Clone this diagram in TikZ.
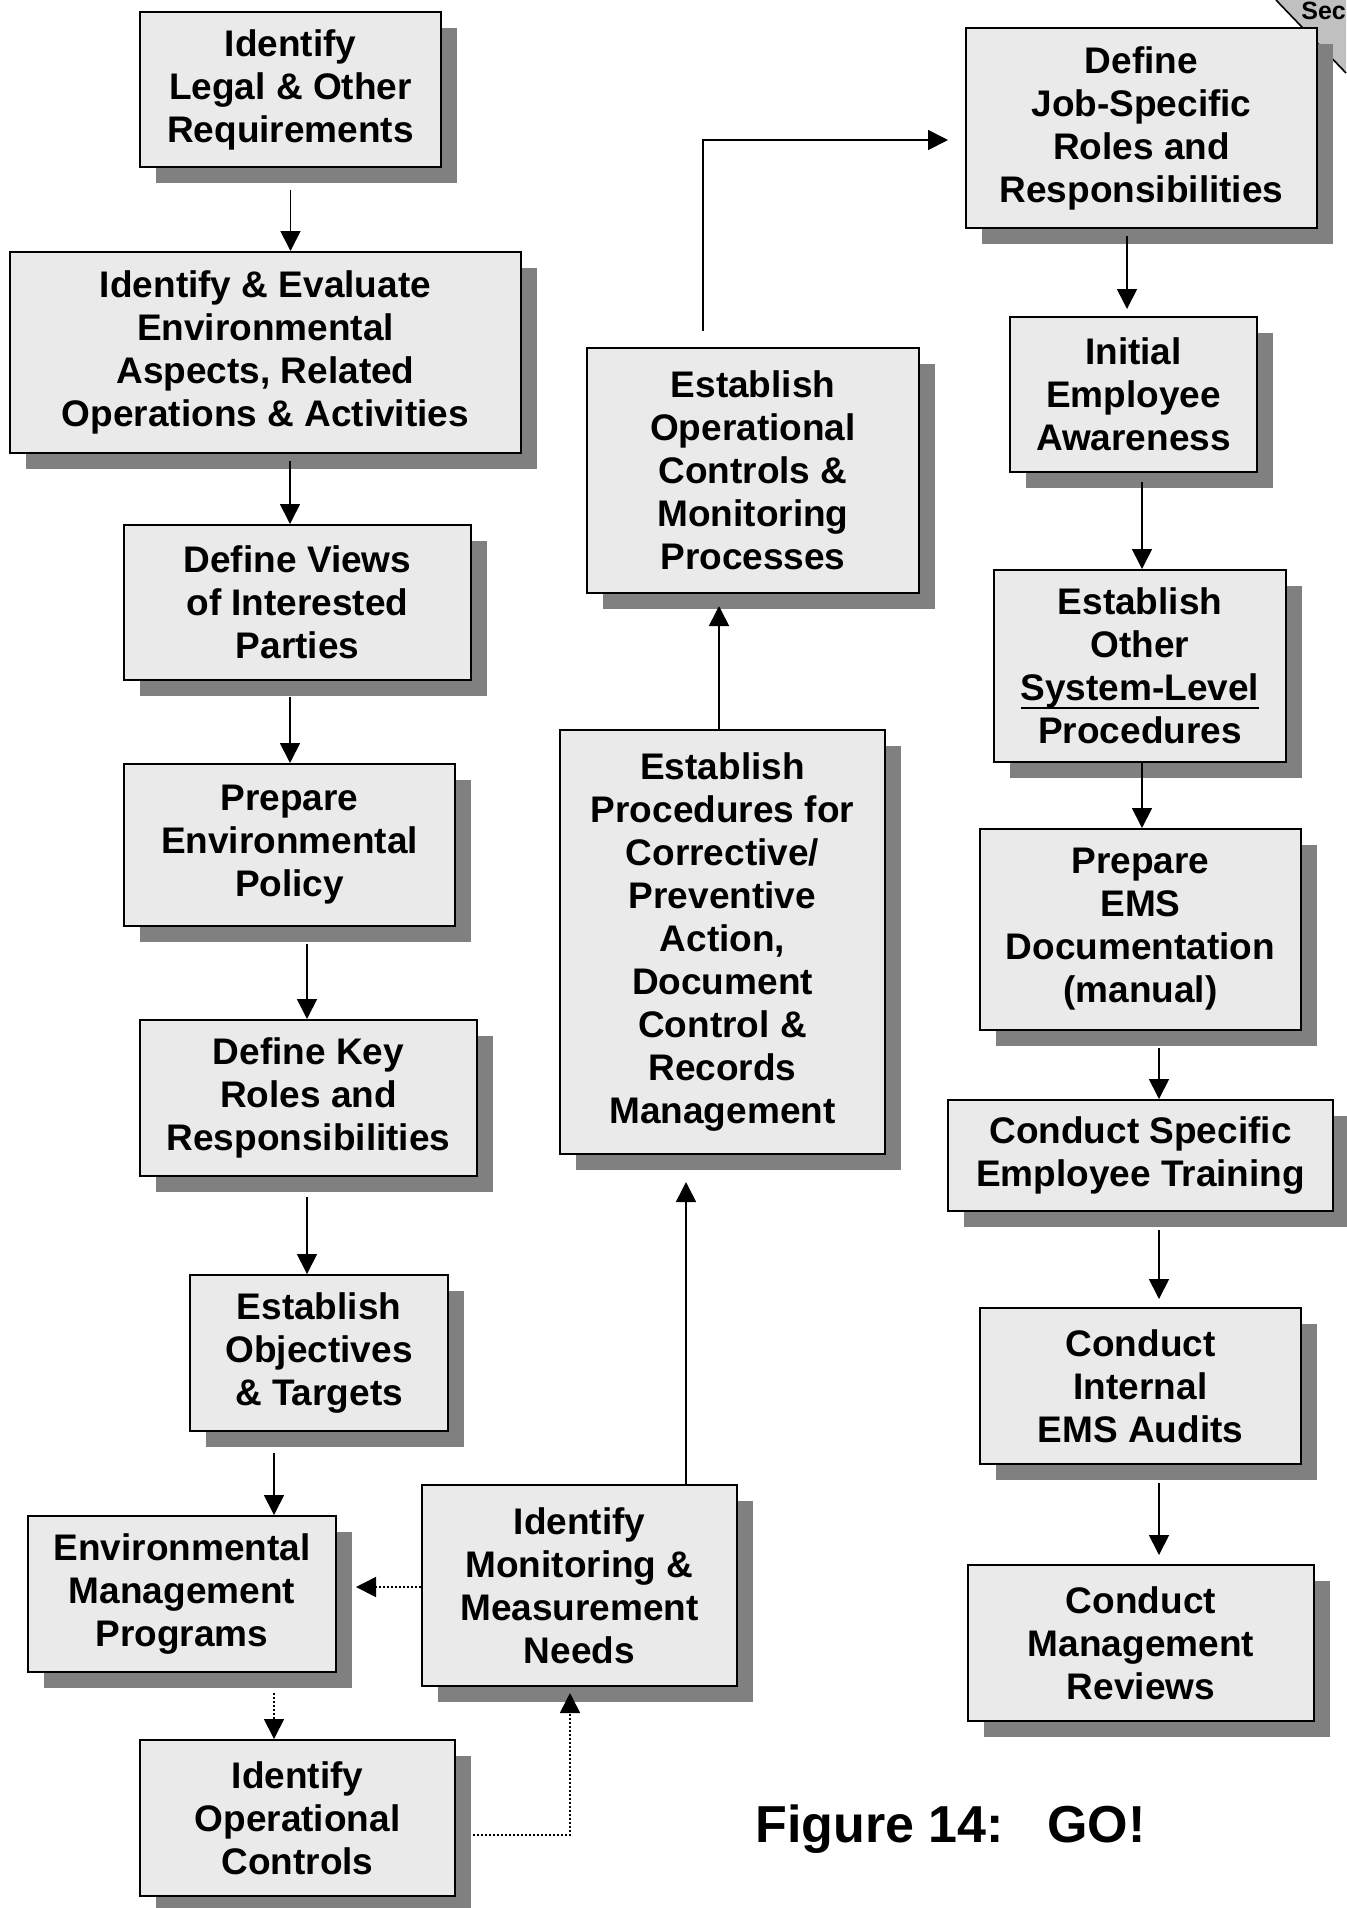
\documentclass[tikz,border=0pt]{standalone}
\usepackage{fontspec}
\setmainfont{Liberation Sans}
\usetikzlibrary{arrows.meta,calc,shadows}
\definecolor{boxfill}{HTML}{EAEAEA}
\definecolor{shadowgray}{HTML}{808080}
\definecolor{tabgray}{HTML}{C0C0C0}
\newcommand\myul[1]{\begingroup\setbox0\hbox{#1}\rlap{\rule[-4.05pt]{\wd0}{1.1pt}}\box0\endgroup}
\begin{document}
\begin{tikzpicture}[x=0.5pt,y=-0.5pt,
  box/.style={draw=black, line width=1pt, fill=boxfill, align=center, inner sep=0pt,
    font=\bfseries\fontsize{18.5pt}{21.5pt}\selectfont,
    drop shadow={shadow xshift=8pt, shadow yshift=-8pt, fill=shadowgray, opacity=1}},
  arr/.style={line width=0.85pt, -{Triangle[length=10pt,width=10pt]}},
  dotarr/.style={arr, dash pattern=on 1pt off 1pt}]
\useasboundingbox (0,0) rectangle (1346,1908);
% corner tab
\fill[tabgray] (1276,0) -- (1346,0) -- (1346,73) -- cycle;
\draw[line width=0.8pt] (1276,0) -- (1346,73);
\node[anchor=base west, inner sep=0pt, font=\bfseries\fontsize{12.5pt}{14pt}\selectfont] (sec) at (1301,19) {Sec};
% left column
\node[box, minimum width=150.5pt, minimum height=77.5pt] (legal) at (290.5,89.5) {Identify\\Legal \& Other\\Requirements};
\node[box, minimum width=255.5pt, minimum height=100.5pt] (evaluate) at (265.5,352.5) {Identify \& Evaluate\\Environmental\\Aspects, Related\\Operations \& Activities};
\node[box, minimum width=173.5pt, minimum height=77.5pt] (views) at (297.5,602.5) {Define Views\\of Interested\\Parties};
\node[box, minimum width=165.5pt, minimum height=81pt] (policy) at (289.5,845) {Prepare\\Environmental\\Policy};
\node[box, minimum width=168.5pt, minimum height=78pt] (keyroles) at (308.5,1098) {Define Key\\Roles and\\Responsibilities};
\node[box, minimum width=129pt, minimum height=78pt] (objectives) at (319,1353) {Establish\\Objectives\\\& Targets};
\node[box, minimum width=154pt, minimum height=78pt] (envprog) at (182,1594) {Environmental\\Management\\Programs};
\node[box, minimum width=157.5pt, minimum height=100.5pt] (monitor) at (579.5,1585.5) {Identify\\Monitoring \&\\Measurement\\Needs};
\node[box, minimum width=157.5pt, minimum height=78pt] (opident) at (297.5,1818) {Identify\\Operational\\Controls};
% middle column
\node[box, minimum width=162.5pt, minimum height=212pt] (corrective) at (722.5,942) {Establish\\Procedures for\\Corrective/\\Preventive\\Action,\\Document\\Control \&\\Records\\Management};
\node[box, minimum width=166pt, minimum height=122.5pt] (opctrl) at (753,470.5) {Establish\\Operational\\Controls \&\\Monitoring\\Processes};
% right column
\node[box, minimum width=175.5pt, minimum height=100pt] (jobroles) at (1141.5,128) {Define\\Job-Specific\\Roles and\\Responsibilities};
\node[box, minimum width=123.5pt, minimum height=77.5pt] (initial) at (1133.5,394.5) {Initial\\Employee\\Awareness};
\node[box, minimum width=146pt, minimum height=96pt] (other) at (1140,666) {Establish\\Other\\\myul{System-Level}\\Procedures};
\node[box, minimum width=160.5pt, minimum height=100.5pt] (emsdoc) at (1140.5,929.5) {Prepare\\EMS\\Documentation\\(manual)};
\node[box, minimum width=192.5pt, minimum height=55.5pt] (training) at (1140.5,1155.5) {Conduct Specific\\Employee Training};
\node[box, minimum width=160.5pt, minimum height=78pt] (audits) at (1140.5,1386) {Conduct\\Internal\\EMS Audits};
\node[box, minimum width=173pt, minimum height=78pt] (reviews) at (1141,1643) {Conduct\\Management\\Reviews};
% caption
\node[anchor=base west, inner sep=0pt, font=\bfseries\fontsize{26pt}{30pt}\selectfont] (caption) at (755,1842) {Figure 14:\hspace{0.834em}GO!};
% connectors
\draw[arr] ($(legal.south)+(0,22)$) -- (legal.south |- evaluate.north);
\draw[arr] ($(evaluate.south)+(24.5,7)$) -- ($(views.north)+(-7.5,0)$);
\draw[arr] ($(views.south)+(-7.5,16)$) -- ($(policy.north)+(0.5,0)$);
\draw[arr] ($(policy.south)+(17.5,17)$) -- ($(keyroles.north)+(-1.5,0)$);
\draw[arr] ($(keyroles.south)+(-1.5,20)$) -- ($(objectives.north)+(-12,0)$);
\draw[arr] ($(objectives.south)+(-45,21)$) -- ($(envprog.north)+(92,0)$);
\draw[dotarr] ($(envprog.south)+(92,20)$) -- ($(opident.north)+(-23.5,0)$);
\draw[dotarr] ($(opident.east)+(17,17)$) -| ($(monitor.south)+(-9.5,6)$);
\draw[dotarr] ($(monitor.west)+(0,1.5)$) -- ($(envprog.east)+(19,-7)$);
\draw[arr] ($(monitor.north)+(106.5,0)$) -- ($(corrective.south)+(-36.5,27)$);
\draw[arr] ($(corrective.north)+(-3.5,0)$) -- ($(opctrl.south)+(-34,12)$);
\draw[arr] ($(opctrl.north)+(-50,-16)$) |- ($(jobroles.west)+(-17,12)$);
\draw[arr] ($(jobroles.south)+(-14.5,7)$) -- ($(initial.north)+(-6.5,-7)$);
\draw[arr] ($(initial.south)+(8.5,9)$) -- ($(other.north)+(2,0)$);
\draw[arr] ($(other.south)+(2,0)$) -- ($(emsdoc.north)+(1.5,0)$);
\draw[arr] ($(emsdoc.south)+(18.5,17)$) -- ($(training.north)+(18.5,0)$);
\draw[arr] ($(training.south)+(18.5,18)$) -- ($(audits.north)+(18.5,-8)$);
\draw[arr] ($(audits.south)+(18.5,18)$) -- ($(reviews.north)+(18,-9)$);
\end{tikzpicture}
\end{document}
